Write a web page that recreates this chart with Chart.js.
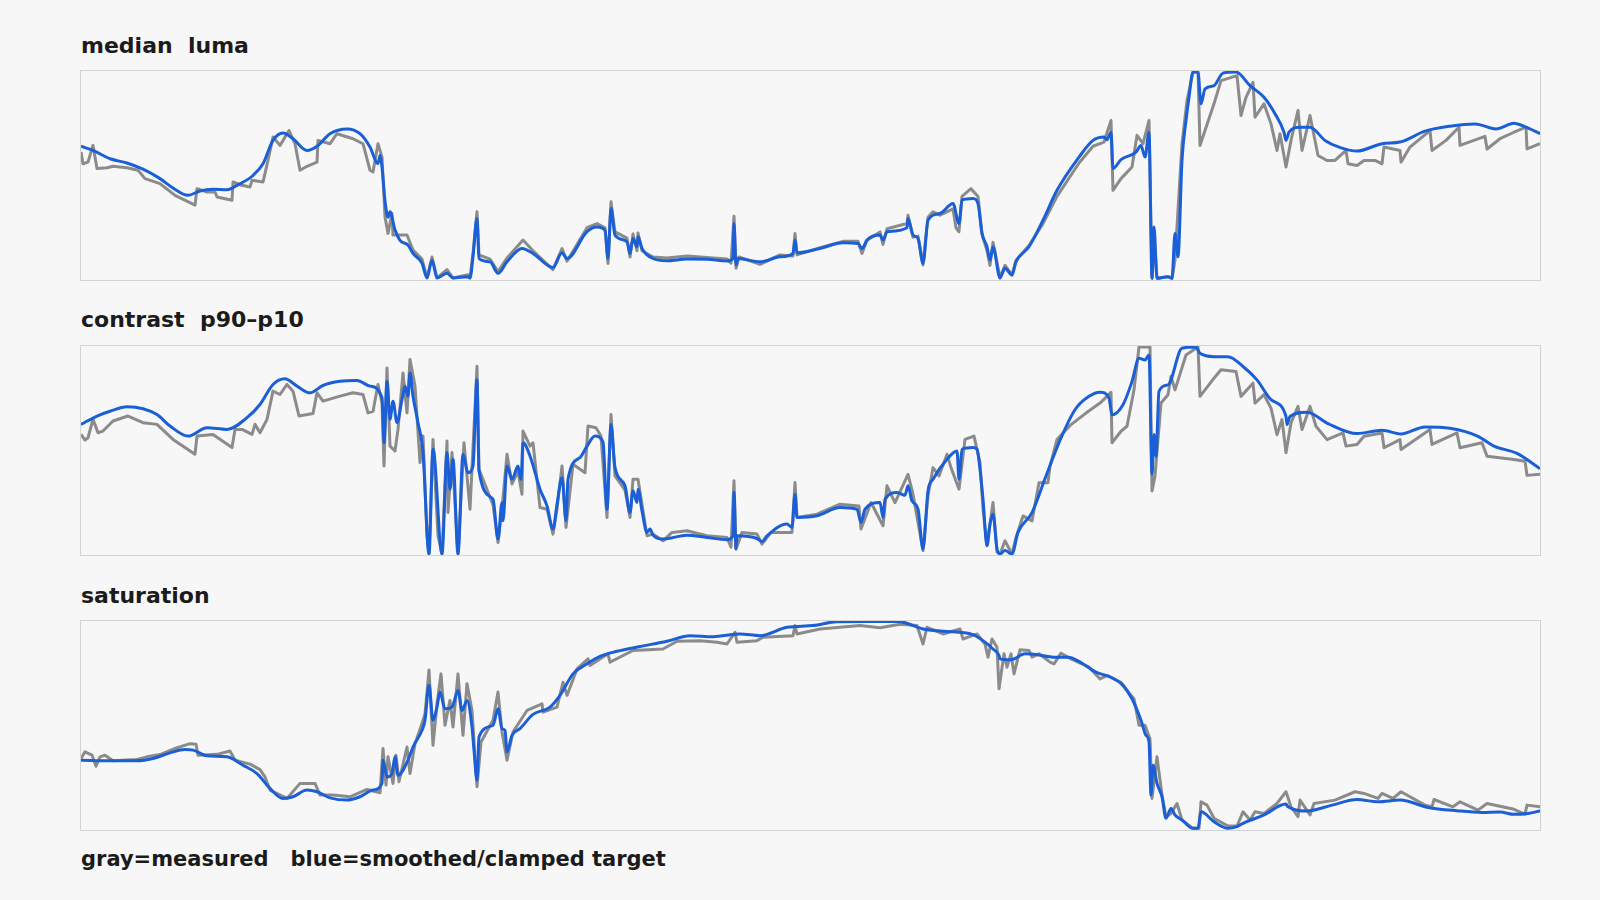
<!DOCTYPE html>
<html>
<head>
<meta charset="utf-8">
<script src="https://cdn.jsdelivr.net/npm/chart.js@4.4.0/dist/chart.umd.min.js"></script>
<style>
  body { margin: 0; background: #f7f7f7; width: 1600px; height: 900px; overflow: hidden; position: relative; }
  .title { position: absolute; left: 81px; font-family: "DejaVu Sans", sans-serif; font-weight: bold; font-size: 22px; line-height: 22px; color: #1b1b1b; white-space: pre; }
  .foot { font-size: 21px; }
  .box { position: absolute; left: 80px; border: 1px solid #d3d3d3; width: 1459px; height: 209px; }
  .box canvas { display: block; }
</style>
</head>
<body>
<div class="title" style="top:35px">median  luma</div>
<div class="box" style="top:70px"><canvas id="canvas1" width="1459" height="209"></canvas></div>
<div class="title" style="top:309px">contrast  p90–p10</div>
<div class="box" style="top:345px"><canvas id="canvas2" width="1459" height="209"></canvas></div>
<div class="title" style="top:585px">saturation</div>
<div class="box" style="top:620px"><canvas id="canvas3" width="1459" height="209"></canvas></div>
<div class="title foot" style="top:848px">gray=measured   blue=smoothed/clamped target</div>

<script>
// [frame, value] pairs, value in % of the panel range (0 = bottom, 100 = top)
let lumaMeasured = [[0,61.2],[2,55.6],[7,56.4],[12,64.4],[16,53.3],[26,53.7],[32,54.4],[46,53.7],[57,52.5],[64,48.5],[79,46.1],[94,40.5],[114,35.8],[116,43.7],[126,42.1],[134,42.1],[136,39.7],[151,38.2],[152,46.9],[161,45.3],[169,44.5],[171,47.7],[182,46.9],[187,57.2],[192,68.4],[199,64.4],[208,71.5],[214,65.2],[219,52.5],[226,54.4],[236,56.4],[237,66.8],[249,65.2],[256,70],[272,67.6],[282,65.2],[289,52.5],[292,51.7],[297,65.2],[301,58.8],[304,30.2],[307,22.3],[311,31.8],[312,21.5],[326,21.5],[332,14.3],[341,10],[346,1],[351,11],[356,1],[366,5],[372,1],[387,2.5],[389,1],[392,13],[396,32.6],[398,12],[409,10],[417,4],[426,10.5],[442,19.1],[452,14],[472,5],[481,15],[486,9],[506,25],[516,27],[524,25],[527,7.9],[530,37.4],[534,23],[546,20],[549,11],[552,22],[556,14],[557,22.5],[561,14],[572,11],[586,10.5],[606,11.5],[626,10.8],[646,10],[650,8],[653,30.5],[655,5.6],[658,11],[679,7.5],[699,12],[712,11.5],[714,22.3],[716,12],[739,15.5],[762,18.5],[777,18.5],[781,12.7],[786,19],[799,23],[802,17],[806,24.5],[826,27],[827,31],[832,20.5],[837,21],[842,7.2],[847,30],[852,32.6],[859,31],[872,34],[875,25],[878,23.1],[881,40],[890,43.7],[897,40],[901,22],[906,14],[909,7],[912,18],[919,1],[924,7],[931,2.4],[935,9.5],[948,16.5],[962,27],[976,40],[998,56],[1012,64],[1023,66],[1030,76.3],[1032,42.9],[1040,48.5],[1051,54.1],[1056,69.2],[1062,65.2],[1068,76.3],[1071,0.8],[1073,22],[1076,0.8],[1087,1.6],[1091,0.8],[1094,9.5],[1101,65.2],[1106,85.9],[1112,99.5],[1117,99.5],[1119,64.4],[1133,84.3],[1140,95.4],[1156,97.8],[1160,78.7],[1165,87.4],[1172,94.6],[1174,77.9],[1183,84.3],[1190,74.7],[1196,62],[1199,70],[1205,54.1],[1210,66.8],[1217,81.1],[1221,62],[1229,78.7],[1237,59.6],[1246,57.2],[1254,57.2],[1265,62],[1267,55.6],[1276,54.8],[1283,57.2],[1294,57.2],[1301,55.6],[1303,63.6],[1319,62],[1320,56.4],[1329,63.6],[1349,71.5],[1351,62],[1365,66.8],[1378,73.1],[1379,64.4],[1404,68.7],[1406,62.7],[1419,67.6],[1433,70.7],[1445,73.1],[1446,62.7],[1459,65.2]];

let lumaSmoothed = [[0,64],[12,62],[29,58],[46,56],[62,53],[79,48.5],[92,44],[107,40.5],[119,42.6],[132,43.4],[146,43.2],[156,45.3],[172,50],[182,55.6],[192,66.8],[202,70.3],[212,67.6],[226,62],[236,64],[249,70],[266,72.3],[279,70],[289,63.6],[297,55.6],[299,59.6],[301,54],[304,38],[307,30],[309,32.6],[314,24],[319,19],[327,16.7],[332,12.7],[341,8],[346,1],[351,9.5],[356,1],[366,3.2],[372,1],[387,1.6],[389,1],[392,11],[396,29.4],[398,10.3],[409,8.7],[417,3.2],[426,8.7],[441,15.1],[452,12.7],[472,6],[481,13],[486,10.3],[506,23.1],[516,25.4],[524,23.8],[527,10.3],[530,34.2],[534,21.5],[546,18.3],[549,12.7],[552,19.9],[556,15.9],[557,20.7],[561,15.1],[572,10.3],[586,9.2],[606,10],[626,9.9],[646,9.1],[652,10.3],[653,27],[655,7.2],[657,10.3],[679,8.7],[699,11.1],[712,12.7],[714,19.1],[716,13],[739,15.1],[762,17.8],[777,17.5],[781,15.1],[786,19.1],[799,21.5],[802,19.1],[806,23.1],[826,25],[827,29.4],[832,21.5],[837,19.9],[842,7.9],[847,28.6],[859,31.8],[872,36.6],[878,27],[881,38.2],[892,39],[897,36.6],[901,22.3],[906,15.9],[909,9.5],[912,15.9],[919,1],[924,5.6],[931,2.4],[935,8.7],[948,15.9],[962,28.6],[976,42.9],[998,58.8],[1012,66.8],[1023,68.4],[1026,67.1],[1030,70.7],[1032,53.3],[1040,57.6],[1055,61.2],[1060,64.4],[1064,58.8],[1068,70.7],[1071,0.8],[1073,25.4],[1076,0.8],[1087,1.6],[1091,0.8],[1094,22.3],[1097,11.1],[1101,57.2],[1105,76.3],[1108,87.4],[1112,99.5],[1117,99.5],[1120,84.3],[1124,91.4],[1133,93],[1142,99],[1155,99.5],[1169,93],[1183,87.4],[1194,79.5],[1203,70.7],[1205,66.8],[1208,70.7],[1219,73.1],[1229,73.1],[1244,66.8],[1258,63.6],[1276,61.7],[1301,65.2],[1319,66],[1344,71.2],[1369,73.6],[1394,74.7],[1415,72.3],[1433,75],[1445,73.1],[1459,70]];

let contrastMeasured = [[0,57.7],[4,55],[7,56.1],[12,64.9],[17,58.5],[22,59.3],[32,64.1],[47,66.5],[62,63.3],[76,62.5],[92,55.3],[114,48.2],[116,56.9],[132,57.7],[151,51.4],[154,60.1],[161,60.1],[171,57.7],[174,62.5],[179,58.5],[186,64.9],[192,78.4],[199,76.8],[206,81.6],[212,78.4],[218,66.5],[232,67.7],[236,77.6],[242,73.6],[259,76],[272,77.6],[282,76.8],[287,68],[292,68.8],[297,81.6],[301,72.8],[303,42.6],[306,89.5],[309,52.1],[314,49.8],[317,60.1],[322,87.1],[326,68],[329,93.5],[334,80.8],[339,44.2],[342,56.9],[346,9.2],[348,0.5],[352,55.3],[357,9.2],[361,0.5],[366,54.5],[367,20.3],[371,49],[377,0.5],[383,53.7],[389,21.9],[396,90.3],[398,41],[412,24],[417,6],[421,22],[426,48.2],[431,34],[437,40],[441,29.1],[442,59.3],[449,52.1],[452,53.7],[459,22.7],[466,21.9],[472,10],[476,22],[481,42.6],[485,13.2],[492,43.4],[504,39.4],[507,61.7],[515,60.9],[520,56.9],[526,18],[530,67.2],[534,37.8],[544,31],[549,18],[552,36.2],[557,36.2],[566,9.2],[572,10],[582,6.8],[591,10.8],[606,11.6],[626,9.2],[646,8.4],[650,3.7],[653,35.5],[655,2.9],[661,10.8],[676,10],[681,5.2],[690,10.8],[711,10.8],[714,34.7],[716,18],[736,19.5],[759,24.3],[778,23.5],[780,12.4],[790,25.1],[802,14],[806,33.1],[814,25.1],[827,38.6],[832,29.1],[842,2.1],[847,28.3],[852,41.8],[858,37.8],[866,48.2],[870,41.8],[878,31.5],[884,55.3],[893,56.9],[899,44.2],[902,21.9],[906,4.5],[912,25.1],[916,1.5],[919,0.5],[924,6.8],[931,0.5],[935,8.4],[942,18.7],[951,16.3],[958,34.6],[967,34.6],[969,42.5],[976,55.2],[990,62.4],[1005,67.9],[1019,72.7],[1030,77.8],[1031,53.7],[1040,59.2],[1046,61.6],[1053,79],[1058,99.5],[1069,99.5],[1071,30.6],[1074,37.8],[1080,72.7],[1087,76.7],[1090,85.4],[1094,79],[1105,95.7],[1117,99.5],[1119,75.9],[1133,84.6],[1140,88.6],[1155,87.8],[1160,75.9],[1172,82.2],[1174,72.7],[1183,76.7],[1190,70.3],[1196,57.6],[1201,64.8],[1205,48.9],[1210,63.2],[1217,71.1],[1221,60],[1229,71.1],[1235,61.6],[1246,55.2],[1262,58.4],[1265,52.1],[1276,52.9],[1283,56.8],[1301,58.4],[1303,51.3],[1319,55.2],[1320,50.5],[1349,60],[1351,52.9],[1376,58.4],[1379,51.3],[1401,53.7],[1406,47.3],[1433,45.7],[1444,44.9],[1446,38.1],[1459,38.6]];

let contrastSmoothed = [[0,62.5],[16,66.5],[29,68.8],[46,70.9],[62,70],[76,67.2],[89,61.7],[107,56.9],[126,60.9],[146,60.1],[166,65.7],[179,72],[192,81.6],[204,84.3],[216,80.8],[229,77.6],[242,81.1],[259,83.1],[276,83.5],[289,80.8],[301,75.2],[303,53.7],[306,83.1],[309,64.9],[312,73.6],[316,63.3],[321,74.4],[324,80.8],[327,76],[329,87.1],[332,76],[337,63.3],[342,49],[348,0.5],[352,50.6],[361,0.5],[366,49],[369,31.5],[372,45.8],[377,0.5],[382,48.2],[387,39.4],[392,42.6],[396,83.9],[398,40.2],[412,26.7],[417,7.6],[421,25.1],[422,16.4],[426,42.6],[431,36.2],[437,42.6],[440,36.2],[442,53.7],[449,47.4],[459,31.5],[466,23.5],[472,12.4],[476,24.3],[481,37],[485,16.4],[487,36.2],[499,46.6],[506,52.1],[514,56.9],[522,54.1],[526,21.9],[530,62.5],[534,41.8],[544,33.1],[549,20.3],[552,30.7],[556,25.1],[557,31.5],[561,21.1],[566,10.8],[569,12.4],[572,9.5],[582,7.6],[606,9.5],[626,8.4],[646,7.3],[652,9.2],[653,29.9],[655,2.9],[656,9.2],[676,7.9],[681,6.4],[686,9.2],[706,14.8],[711,13.2],[714,29.1],[716,18],[736,18.8],[759,22.7],[776,21.9],[780,15.6],[784,21.9],[799,25.1],[802,18],[804,26.7],[816,29.9],[824,28.6],[827,33.1],[831,25.9],[837,21.9],[842,2.9],[847,30.7],[852,36.2],[866,45.8],[876,49.8],[878,36.2],[881,50.6],[892,51.4],[896,50.6],[899,41],[902,26.7],[906,4.5],[909,14.8],[912,19.6],[916,2.9],[919,0.5],[924,2.1],[931,0.5],[937,10.8],[951,20.3],[965,37.8],[980,56],[994,69.5],[1008,75.9],[1019,77.9],[1028,75.1],[1031,67.1],[1042,71.9],[1051,83],[1058,94.1],[1064,93.3],[1068,95.7],[1071,38.6],[1073,57.6],[1075,47.3],[1078,78.3],[1087,81.4],[1101,98.9],[1115,99.5],[1119,96.5],[1133,94.9],[1147,94.9],[1162,90.2],[1176,83.8],[1190,74.3],[1205,66.3],[1206,62.4],[1209,66.3],[1226,68.3],[1247,62.9],[1276,58.1],[1301,59.7],[1320,57.9],[1344,61.3],[1369,60.6],[1397,56.8],[1413,52.1],[1436,48.6],[1459,41.3]];

let satMeasured = [[0,34.2],[4,37.4],[11,35.8],[15,30.5],[19,35],[24,35.8],[32,33.1],[56,33.7],[66,35],[79,36.1],[94,39],[109,41.3],[115,41],[117,35.8],[136,36.2],[149,37.8],[154,33.4],[169,31.5],[179,28.9],[184,25.4],[189,19.1],[206,15.1],[219,22.3],[234,22.3],[239,16.7],[252,16.7],[269,15.9],[286,19.4],[299,17.8],[302,39],[305,21.5],[307,35],[312,22.3],[315,35.8],[318,23.1],[326,39.7],[329,27],[334,41.3],[341,50.9],[344,55.6],[348,76.6],[352,40.5],[356,60.4],[360,74.7],[364,50.1],[369,62],[372,49.3],[377,74.7],[382,45.3],[386,70],[391,57.2],[394,35],[396,20.7],[400,42.1],[412,52.5],[417,66],[421,46.9],[426,33.4],[432,46.9],[446,57.2],[461,60.4],[462,56.4],[476,58.8],[482,70.7],[486,64.4],[496,77.1],[507,81.9],[509,78.7],[527,84.3],[529,80.3],[552,85.9],[582,86.6],[596,90.3],[619,90.6],[636,89.8],[646,89],[654,94.6],[656,89.8],[676,90.6],[682,92.2],[712,93],[714,97.8],[716,93.8],[739,96.2],[779,97.8],[799,96.8],[819,98.4],[836,97.8],[842,89],[846,97],[862,93.8],[879,96.2],[882,91.4],[896,93.8],[904,89],[907,82.7],[911,91.4],[916,87.4],[918,67.6],[923,84.3],[926,77.9],[930,84.3],[933,74.7],[939,86.2],[948,85.9],[951,82.7],[958,84.3],[969,80.3],[973,79.5],[980,84.6],[990,81.9],[1008,77.9],[1019,72.3],[1026,73.9],[1040,70.7],[1047,66],[1053,62.8],[1058,50.1],[1064,50.1],[1069,43.7],[1071,15.1],[1076,35],[1081,16.7],[1085,6.4],[1090,7.9],[1096,12.7],[1101,4.8],[1112,0.8],[1118,0.8],[1120,13.5],[1126,11.9],[1133,5.6],[1147,1.9],[1156,1.9],[1162,8.7],[1169,4.8],[1174,8.7],[1183,7.9],[1196,12.7],[1205,18.3],[1210,11.1],[1217,6.4],[1219,14.3],[1229,7.2],[1233,12.7],[1254,14.3],[1274,18.3],[1283,17.5],[1297,15.1],[1301,17.5],[1312,15.1],[1320,18.3],[1344,11.9],[1351,11.1],[1353,14.6],[1372,11.1],[1379,13.5],[1397,9.5],[1406,12.7],[1433,9.9],[1444,7.6],[1446,11.9],[1459,11.1]];

let satSmoothed = [[0,33.4],[29,33.1],[56,33.1],[72,34.2],[89,36.9],[104,38.5],[112,38.2],[126,35.5],[146,35],[162,31],[176,27],[189,19.9],[202,15.1],[212,15.9],[226,19.1],[236,18.3],[249,15.4],[266,14.3],[279,15.9],[292,19.1],[301,22.3],[302,33.4],[306,25.4],[311,27],[314,35],[317,26.2],[327,33.4],[332,39.7],[341,47.7],[344,52.5],[348,69.2],[352,52.5],[356,58.8],[359,66],[364,58],[371,58.8],[377,66.8],[381,57.2],[386,62],[391,49.3],[393,38.2],[396,23.8],[398,44.5],[412,50.1],[417,58],[421,48.5],[424,47.7],[426,37.4],[431,45.3],[439,48.5],[452,55.3],[469,58.8],[479,64.4],[492,74.7],[506,79.5],[519,83.1],[536,85.5],[559,87.8],[586,90.3],[609,93],[632,92.5],[659,93.8],[679,93],[706,97],[732,97.8],[756,99.7],[786,99.8],[817,99.8],[842,96.2],[862,95.1],[892,93.5],[902,90.6],[912,86.6],[918,83.5],[919,81.9],[930,81.4],[944,84.3],[955,84],[973,82.7],[987,82.7],[1001,79.8],[1015,75.5],[1030,73.1],[1042,69.2],[1051,62.8],[1060,52.5],[1065,45.3],[1068,42.1],[1070,16.7],[1072,31],[1076,22.3],[1081,15.9],[1085,5.6],[1090,10.3],[1094,7.2],[1101,4.8],[1112,0.8],[1117,0.8],[1120,8.7],[1133,4],[1147,0.8],[1156,1.6],[1162,3.2],[1183,7.2],[1205,12.4],[1207,11.1],[1226,9.1],[1251,11.9],[1276,14.6],[1297,13.5],[1319,14.3],[1347,10.8],[1376,9.2],[1401,8.4],[1419,8.6],[1433,7.5],[1447,7.9],[1459,9.1]];

let lastFrame = 1459;
let grayColor = "#8b8b8b";
let blueColor = "#1b5fd6";

function toPoints(list) {
    return list.map(p => ({ x: p[0], y: p[1] }));
}

// one panel = measured (gray, under) + smoothed target (blue, on top)
function makePanel(id, measured, smoothed) {
    let ctx = document.querySelector(id).getContext("2d");
    return new Chart(ctx, {
        type: "line",
        data: {
            datasets: [{
                label: "smoothed",
                data: toPoints(smoothed),
                borderColor: blueColor,
                borderWidth: 3,
                pointRadius: 0,
                cubicInterpolationMode: "monotone",
                borderJoinStyle: "round",
                order: 1
            }, {
                label: "measured",
                data: toPoints(measured),
                borderColor: grayColor,
                borderWidth: 3,
                pointRadius: 0,
                tension: 0,
                borderJoinStyle: "round",
                order: 2
            }]
        },
        options: {
            responsive: false,
            animation: false,
            events: [],
            layout: { padding: 0 },
            plugins: { legend: { display: false }, tooltip: { enabled: false } },
            scales: {
                x: { type: "linear", min: 0, max: lastFrame, display: false },
                y: { min: 0, max: 100, display: false }
            }
        }
    });
}

let lumaChart = makePanel("#canvas1", lumaMeasured, lumaSmoothed);
let contrastChart = makePanel("#canvas2", contrastMeasured, contrastSmoothed);
let satChart = makePanel("#canvas3", satMeasured, satSmoothed);
</script>
</body>
</html>
